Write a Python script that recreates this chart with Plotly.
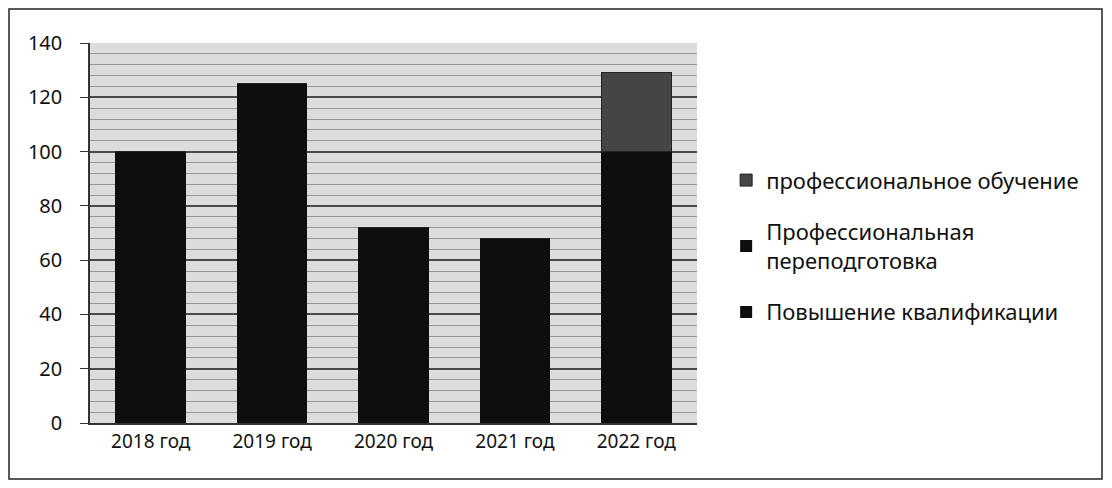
import plotly.graph_objects as go

categories = ["2018 год", "2019 год", "2020 год", "2021 год", "2022 год"]
povyshenie = [100, 125, 72, 68, 70]
perepodgotovka = [0, 0, 0, 0, 30]
obuchenie = [0, 0, 0, 0, 29]
y_ticks = [0, 20, 40, 60, 80, 100, 120, 140]

W, H = 1096, 472
L, R, T, B = 82, 407, 35, 57
pw, ph = W - L - R, H - T - B

fig = go.Figure()
fig.add_trace(go.Bar(x=categories, y=povyshenie, name="Повышение квалификации",
                     marker=dict(color="#0e0e0e", line=dict(color="#0e0e0e", width=0)),
                     legendgroup="a", legendrank=3))
fig.add_trace(go.Bar(x=categories, y=perepodgotovka, name="Профессиональная<br>переподготовка",
                     marker=dict(color="#0e0e0e", line=dict(color="#0e0e0e", width=0)),
                     legendgroup="b", legendrank=2))
fig.add_trace(go.Bar(x=categories, y=obuchenie, name="профессиональное обучение",
                     marker=dict(color="#454545", line=dict(color="#222222", width=1)),
                     legendgroup="c", legendrank=1))

fig.update_layout(
    barmode="stack",
    bargap=0.42,
    width=W, height=H,
    margin=dict(l=L, r=R, t=T, b=B, autoexpand=False),
    paper_bgcolor="white",
    plot_bgcolor="#dcdcdc",
    font=dict(family="Noto Sans", size=19, color="#111111"),
    showlegend=True,
    legend=dict(x=1.048, y=0.465, xanchor="left", yanchor="middle",
                traceorder="grouped", tracegroupgap=20,
                font=dict(size=22, family="Noto Sans", color="#111111"),
                bgcolor="rgba(0,0,0,0)"),
    shapes=[dict(type="rect", xref="paper", yref="paper",
                 x0=(1 - L) / pw, x1=(W - 2 - L) / pw,
                 y0=(ph - (H - 1 - T)) / ph, y1=(ph + T - 1) / ph,
                 line=dict(color="#222222", width=1.5), fillcolor="rgba(0,0,0,0)",
                 layer="below")],
)
fig.update_yaxes(range=[0, 140], tickvals=y_ticks, showgrid=True,
                 gridcolor="#4a4a4a", gridwidth=1.5,
                 minor=dict(dtick=4, showgrid=True, gridcolor="#969696", gridwidth=1),
                 showline=True, linecolor="#333333", linewidth=1.5,
                 ticks="outside", ticklen=8, tickcolor="#333333",
                 ticklabelstandoff=14,
                 zeroline=False, tickfont=dict(size=20))
fig.update_xaxes(showline=True, linecolor="#333333", linewidth=1.5,
                 ticks="", tickfont=dict(size=19))

fig.write_html("out.html")
